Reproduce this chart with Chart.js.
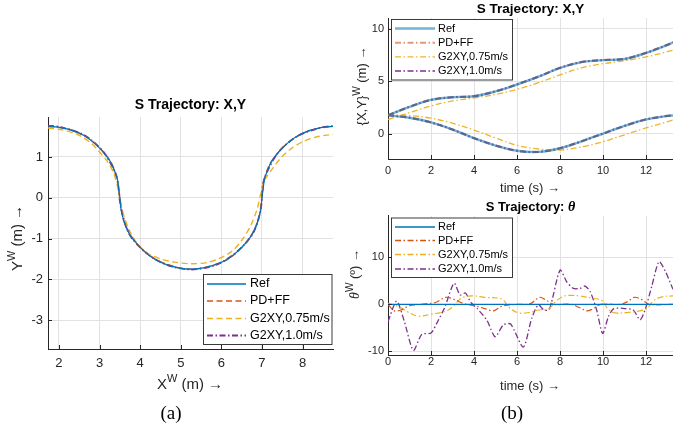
<!DOCTYPE html>
<html>
<head>
<meta charset="utf-8">
<script src="https://cdn.jsdelivr.net/npm/chart.js@4.4.1/dist/chart.umd.min.js"></script>
<style>
  html, body { margin: 0; padding: 0; background: #fff; }
  #wrap { position: relative; width: 673px; height: 429px; overflow: hidden; }
  #wrap canvas { position: absolute; left: 0; top: 0; }
  .sub { position: absolute; font: 19px 'Liberation Serif', 'DejaVu Serif', serif; color: #000; transform: translate(-50%, -50%); }
</style>
</head>
<body>
<div id="wrap">
  <canvas id="chartA" width="673" height="429" style="width:673px;height:429px"></canvas>
  <canvas id="chartB" width="673" height="429" style="width:673px;height:429px"></canvas>
  <canvas id="chartC" width="673" height="429" style="width:673px;height:429px"></canvas>
  <div class="sub" style="left:171px;top:413px">(a)</div>
  <div class="sub" style="left:512px;top:413px">(b)</div>
</div>
<script>
// ---- (a) X-Y path (m) ----
const refPathX = [1.75, 2.05, 2.35, 2.63, 2.87, 3.09, 3.27, 3.39, 3.44, 3.47, 3.50, 3.53, 3.61, 3.73, 3.91, 4.13, 4.38, 4.65, 4.95, 5.25,
                  5.55, 5.85, 6.13, 6.37, 6.59, 6.77, 6.89, 6.97, 7.00, 7.03, 7.06, 7.11, 7.23, 7.41, 7.63, 7.88, 8.15, 8.45, 8.75];
const refPathY = [1.75, 1.72, 1.64, 1.52, 1.34, 1.12, 0.88, 0.60, 0.45, 0.22, 0.00, -0.30, -0.60, -0.88, -1.12, -1.34, -1.52, -1.64, -1.72, -1.75,
                  -1.72, -1.64, -1.52, -1.34, -1.12, -0.88, -0.60, -0.30, 0.00, 0.22, 0.45, 0.60, 0.88, 1.12, 1.34, 1.52, 1.64, 1.72, 1.75];
const pdPathX = [1.75, 2.35, 2.87, 3.27, 3.43, 3.50, 3.60, 3.90, 4.38, 4.95, 5.25, 5.55, 6.12, 6.60, 6.90, 7.00, 7.06, 7.22, 7.62, 8.15, 8.75];
const pdPathY = [1.76, 1.65, 1.35, 0.89, 0.47, 0.00, -0.58, -1.11, -1.51, -1.72, -1.75, -1.72, -1.53, -1.12, -0.58, 0.00, 0.46, 0.87, 1.33, 1.64, 1.76];
const g075PathX = [1.73, 2.10, 2.50, 2.80, 3.00, 3.20, 3.35, 3.45, 3.50, 3.60, 3.75, 3.95, 4.20, 4.50, 4.85, 5.25,
                   5.65, 5.95, 6.25, 6.50, 6.73, 6.88, 6.97, 7.05, 7.12, 7.25, 7.45, 7.70, 8.00, 8.30, 8.55, 8.75];
const g075PathY = [1.71, 1.66, 1.53, 1.33, 1.12, 0.88, 0.60, 0.25, -0.05, -0.45, -0.83, -1.15, -1.37, -1.50, -1.58, -1.62,
                   -1.59, -1.49, -1.32, -1.05, -0.67, -0.28, 0.10, 0.40, 0.52, 0.70, 0.96, 1.19, 1.37, 1.48, 1.53, 1.55];
const g10PathX = [1.73, 2.05, 2.63, 3.09, 3.39, 3.46, 3.52, 3.72, 4.12, 4.64, 5.25, 5.86, 6.38, 6.78, 6.97, 7.02, 7.10, 7.40, 7.87, 8.45, 8.75];
const g10PathY = [1.77, 1.73, 1.53, 1.13, 0.61, 0.30, -0.20, -0.87, -1.33, -1.64, -1.76, -1.65, -1.33, -0.87, -0.28, 0.30, 0.58, 1.11, 1.51, 1.72, 1.76];

// ---- (b) top: X and Y over time ----
const tXY   = [0, 1, 2, 3, 4, 5, 6, 7, 8, 9, 10, 11, 12, 13, 13.25];
const refX  = [1.75, 2.55, 3.22, 3.47, 3.56, 4.02, 4.68, 5.42, 6.25, 6.80, 7.00, 7.10, 7.68, 8.45, 8.68];
const refY  = [1.75, 1.52, 1.08, 0.40, -0.42, -1.12, -1.62, -1.72, -1.38, -0.72, 0.02, 0.75, 1.36, 1.70, 1.74];
const pdX   = [1.76, 2.57, 3.23, 3.48, 3.58, 4.04, 4.70, 5.44, 6.27, 6.82, 7.01, 7.12, 7.70, 8.47, 8.70];
const pdY   = [1.76, 1.51, 1.06, 0.38, -0.44, -1.13, -1.63, -1.73, -1.39, -0.73, 0.00, 0.73, 1.35, 1.69, 1.74];
const g075X = [1.35, 2.00, 2.64, 3.12, 3.40, 3.74, 4.22, 4.85, 5.60, 6.26, 6.66, 6.94, 7.30, 7.80, 7.95];
const g075Y = [1.78, 1.72, 1.48, 1.00, 0.35, -0.40, -1.10, -1.45, -1.55, -1.25, -0.76, -0.10, 0.55, 1.15, 1.30];
const g10X  = [1.74, 2.56, 3.21, 3.46, 3.57, 4.03, 4.69, 5.43, 6.26, 6.81, 7.00, 7.11, 7.69, 8.46, 8.69];
const g10Y  = [1.77, 1.53, 1.08, 0.41, -0.41, -1.11, -1.61, -1.73, -1.37, -0.71, 0.03, 0.76, 1.37, 1.70, 1.75];

// ---- (b) bottom: heading (deg) ----
const refThT = [0, 13.25];
const refTh  = [0, 0];
const pdThT  = [0, 0.3, 0.6, 1.0, 1.5, 2.2, 2.7, 3.1, 3.5, 4.0, 4.5, 4.9, 5.3, 6.0, 6.6, 7.05, 7.35, 7.7, 8.5, 8.95,
                9.25, 9.5, 9.9, 10.8, 11.15, 11.45, 11.8, 12.15, 13.25];
const pdTh   = [0, -1.4, -1.2, -0.3, 0, 0.4, 1.5, 1.0, 0.2, -0.3, -0.9, -1.4, -0.4, 0, 0.1, 1.5, 0.9, 0, 0, -0.8,
                -1.4, -1.0, 0, 0, 0.6, 1.5, 1.0, 0, 0];
const g075ThT = [0, 0.5, 0.95, 1.4, 2.0, 2.65, 3.0, 3.4, 3.9, 4.5, 5.3, 5.6, 6.05, 6.6, 7.0, 7.45, 7.8, 8.1, 8.4, 8.9,
                 9.5, 9.95, 10.25, 10.55, 11.2, 11.7, 12.05, 12.35, 12.75, 13.25];
const g075Th  = [0.2, -0.5, -1.7, -2.5, -2.1, -1.5, -0.6, 1.3, 1.8, 1.5, 1.1, -0.5, -1.8, -1.7, -1.2, -1.0, 0.6, 1.6, 1.9, 1.8,
                 1.3, 0.8, -1.1, -1.8, -1.7, -1.4, -0.8, 0.8, 1.6, 1.8];
const g10ThT = [0, 0.4, 0.75, 1.18, 1.57, 2.0, 2.26, 2.65, 3.07, 3.35, 3.6, 3.85, 4.15, 4.6, 4.98, 5.36, 5.7, 6.29, 6.68, 6.99,
                7.25, 7.5, 8.0, 8.31, 8.62, 8.93, 9.16, 9.4, 9.7, 9.98, 10.25, 10.5, 11.0, 11.4, 11.72, 11.95, 12.26, 12.6, 12.9, 13.25];
const g10Th  = [-3.7, 0.7, -3.5, -9.8, -6.4, -6.1, -4.1, -0.5, 4.5, 2.0, 2.4, 0.4, -0.9, -3.4, -6.9, -4.4, -4.2, -9.1, -3.0, -0.1,
                -1.2, -1.1, 7.3, 4.8, 3.4, 3.4, 3.9, 2.7, -1.2, -6.2, -2.6, -0.9, -0.9, -1.2, -3.3, -1.2, 3.8, 9.1, 7.0, 3.2];

// tick labels
const xTicksA = [2, 3, 4, 5, 6, 7, 8];
const yTicksA = [-3, -2, -1, 0, 1];
const tTicks = [0, 2, 4, 6, 8, 10, 12];
const xyTicks = [0, 5, 10];
const thTicks = [-10, 0, 10];

const seriesNames = ['Ref', 'PD+FF', 'G2XY,0.75m/s', 'G2XY,1.0m/s'];

const FONT = "'Liberation Sans', Arial, Helvetica, sans-serif";
const SERIF = "'Liberation Serif', 'DejaVu Serif', serif";
const INK = '#262626';
const C_REF = '#0072BD', C_PD = '#D95319', C_G075 = '#EDB120', C_G10 = '#7E2F8E';
const DASH = [6, 3.5];
const DASHDOT = [6, 2.5, 1.5, 2.5];

const pts = (xs, ys) => xs.map((x, i) => ({ x: x, y: ys[i] }));

function line(label, data, color, width, dash, tension) {
  return {
    label: label, data: data, showLine: true, fill: false,
    borderColor: color, borderWidth: width, borderDash: dash || [],
    pointRadius: 0, tension: tension
  };
}

function axis(min, max, ticks, size, pad, fontSize, horizontal) {
  return {
    type: 'linear', min: min, max: max,
    afterBuildTicks: s => { s.ticks = ticks.map(v => ({ value: v })); },
    afterFit: s => { if (horizontal) s.height = size; else s.width = size; },
    grid: { color: '#e2e2e2', lineWidth: 1, drawTicks: false },
    border: { display: true, color: INK, width: 1 },
    ticks: {
      color: INK, padding: pad, autoSkip: false, maxRotation: 0,
      font: { family: FONT, size: fontSize },
      callback: v => String(v)
    }
  };
}

// text with superscripts
function richText(ctx, segs, x, y, rot) {
  ctx.save();
  ctx.translate(x, y);
  if (rot) ctx.rotate(-Math.PI / 2);
  ctx.textBaseline = 'middle';
  ctx.textAlign = 'left';
  let w = 0;
  segs.forEach(s => { ctx.font = s.font; w += ctx.measureText(s.text).width; });
  let cx = -w / 2;
  segs.forEach(s => {
    ctx.font = s.font;
    ctx.fillStyle = s.color || INK;
    ctx.fillText(s.text, cx, s.rise ? -s.rise : 0);
    cx += ctx.measureText(s.text).width;
  });
  ctx.restore();
}

function drawLegend(chart, lg) {
  const ctx = chart.ctx;
  ctx.save();
  ctx.fillStyle = '#fff';
  ctx.fillRect(lg.x0, lg.y0, lg.x1 - lg.x0, lg.y1 - lg.y0);
  ctx.strokeStyle = INK;
  ctx.lineWidth = 0.9;
  ctx.strokeRect(lg.x0, lg.y0, lg.x1 - lg.x0, lg.y1 - lg.y0);
  chart.data.datasets.forEach((ds, i) => {
    const y = lg.rows[i];
    ctx.beginPath();
    ctx.setLineDash(ds.borderDash || []);
    ctx.strokeStyle = ds.borderColor;
    ctx.lineWidth = Math.max(ds.borderWidth, 1.4);
    ctx.moveTo(lg.lx0, y);
    ctx.lineTo(lg.lx1, y);
    ctx.stroke();
    ctx.setLineDash([]);
    ctx.font = lg.font;
    ctx.fillStyle = '#000';
    ctx.textBaseline = 'middle';
    ctx.textAlign = 'left';
    ctx.fillText(ds.label, lg.tx, y);
  });
  ctx.restore();
}

// matlab style ticks pointing inwards
function drawInTicks(chart, len) {
  const ctx = chart.ctx, a = chart.chartArea, x = chart.scales.x, y = chart.scales.y;
  ctx.save();
  ctx.strokeStyle = INK;
  ctx.lineWidth = 1;
  ctx.beginPath();
  x.ticks.forEach(t => {
    const p = Math.round(x.getPixelForValue(t.value)) + 0.5;
    ctx.moveTo(p, a.bottom); ctx.lineTo(p, a.bottom - len);
  });
  y.ticks.forEach(t => {
    const p = Math.round(y.getPixelForValue(t.value)) + 0.5;
    ctx.moveTo(a.left, p); ctx.lineTo(a.left + len, p);
  });
  ctx.stroke();
  ctx.restore();
}

const DECOR = {
  chartA: {
    title: { segs: [{ text: 'S Trajectory: X,Y', font: 'bold 14px ' + FONT, color: '#000' }], x: 190.5, y: 105.5 },
    xlab: { segs: [{ text: 'X', font: '15px ' + FONT }, { text: 'W', font: '11px ' + FONT, rise: 6 }, { text: ' (m) \u2192', font: '15px ' + FONT }], x: 190, y: 385 },
    ylab: { segs: [{ text: 'Y', font: '15px ' + FONT }, { text: 'W', font: '11px ' + FONT, rise: 6 }, { text: ' (m) \u2192', font: '15px ' + FONT }], x: 18, y: 238 },
    legend: { x0: 203.5, y0: 274.5, x1: 332, y1: 344.5, rows: [284, 301, 318.5, 335.5], lx0: 207, lx1: 246, tx: 250, font: '12.5px ' + FONT }
  },
  chartB: {
    title: { segs: [{ text: 'S Trajectory: X,Y', font: 'bold 13.5px ' + FONT, color: '#000' }], x: 530.5, y: 9 },
    xlab: { segs: [{ text: 'time (s) \u2192', font: '13px ' + FONT }], x: 530, y: 188 },
    ylab: { segs: [{ text: '{X,Y}', font: '13px ' + FONT }, { text: 'W', font: '10px ' + FONT, rise: 5 }, { text: ' (m) \u2192', font: '13px ' + FONT }], x: 362, y: 86 },
    legend: { x0: 391.5, y0: 19.5, x1: 512.5, y1: 80, rows: [28.5, 42.7, 56.9, 71], lx0: 395, lx1: 435, tx: 438, font: '11px ' + FONT }
  },
  chartC: {
    title: { segs: [{ text: 'S Trajectory: ', font: 'bold 13px ' + FONT, color: '#000' }, { text: '\u03b8', font: 'italic bold 14px ' + SERIF, color: '#000' }], x: 530.5, y: 207.5 },
    xlab: { segs: [{ text: 'time (s) \u2192', font: '13px ' + FONT }], x: 530, y: 386.5 },
    ylab: { segs: [{ text: '\u03b8', font: 'italic 14px ' + SERIF }, { text: 'W', font: '10px ' + FONT, rise: 5 }, { text: ' (\u00ba) \u2192', font: '13px ' + FONT }], x: 355, y: 274 },
    legend: { x0: 391.5, y0: 218, x1: 512.5, y1: 277.5, rows: [227, 240.5, 254.5, 269], lx0: 395, lx1: 435, tx: 438, font: '11px ' + FONT }
  }
};

const decor = {
  id: 'decor',
  afterDraw(chart) {
    const d = DECOR[chart.canvas.id];
    const ctx = chart.ctx;
    drawInTicks(chart, 4);
    drawLegend(chart, d.legend);
    richText(ctx, d.title.segs, d.title.x, d.title.y, false);
    richText(ctx, d.xlab.segs, d.xlab.x, d.xlab.y, false);
    richText(ctx, d.ylab.segs, d.ylab.x, d.ylab.y, true);
  }
};

function baseOptions(padding, xScale, yScale) {
  return {
    responsive: false,
    animation: false,
    layout: { padding: padding },
    plugins: { legend: { display: false }, tooltip: { enabled: false }, title: { display: false } },
    scales: { x: xScale, y: yScale }
  };
}

// (a)
new Chart(document.getElementById('chartA'), {
  type: 'scatter',
  data: {
    datasets: [
      line(seriesNames[0], pts(refPathX, refPathY), C_REF, 1.2, [], 0.3),
      line(seriesNames[1], pts(pdPathX, pdPathY), C_PD, 1.4, DASH, 0.3),
      line(seriesNames[2], pts(g075PathX, g075PathY), C_G075, 1.4, DASH, 0.3),
      line(seriesNames[3], pts(g10PathX, g10PathY), C_G10, 1.8, DASHDOT, 0.3)
    ]
  },
  options: baseOptions({ left: 16, top: 117, right: 340, bottom: 56 },
    axis(1.73, 8.75, xTicksA, 24, 7, 13, true),
    axis(-3.71, 1.98, yTicksA, 32, 5, 13, false)),
  plugins: [decor]
});

// (b) top
new Chart(document.getElementById('chartB'), {
  type: 'scatter',
  data: {
    datasets: [
      line(seriesNames[0], pts(tXY, refX).concat([{ x: null, y: null }], pts(tXY, refY)), 'rgba(0,114,189,0.55)', 2.4, [], 0.35),
      line(seriesNames[1], pts(tXY, pdX).concat([{ x: null, y: null }], pts(tXY, pdY)), 'rgba(217,83,25,0.6)', 2, DASHDOT, 0.35),
      line(seriesNames[2], pts(tXY, g075X).concat([{ x: null, y: null }], pts(tXY, g075Y)), 'rgba(237,177,32,0.95)', 1.3, DASHDOT, 0.35),
      line(seriesNames[3], pts(tXY, g10X).concat([{ x: null, y: null }], pts(tXY, g10Y)), 'rgba(126,47,142,0.75)', 2, DASHDOT, 0.35)
    ]
  },
  options: baseOptions({ left: 362, top: 18, right: 0, bottom: 250 },
    axis(0, 13.25, tTicks, 20, 5, 11, true),
    axis(-2.4, 11, xyTicks, 26, 4, 11, false)),
  plugins: [decor]
});

// (b) bottom
new Chart(document.getElementById('chartC'), {
  type: 'scatter',
  data: {
    datasets: [
      line(seriesNames[0], pts(refThT, refTh), C_REF, 1.4, [], 0),
      line(seriesNames[1], pts(pdThT, pdTh), C_PD, 1.2, DASHDOT, 0.35),
      line(seriesNames[2], pts(g075ThT, g075Th), C_G075, 1.2, DASHDOT, 0.4),
      line(seriesNames[3], pts(g10ThT, g10Th), C_G10, 1.3, DASHDOT, 0.25)
    ]
  },
  options: baseOptions({ left: 362, top: 215.7, right: 0, bottom: 54 },
    axis(0, 13.25, tTicks, 20, 0, 11, true),
    axis(-10.8, 18.9, thTicks, 26, 4, 11, false)),
  plugins: [decor]
});
</script>
</body>
</html>
